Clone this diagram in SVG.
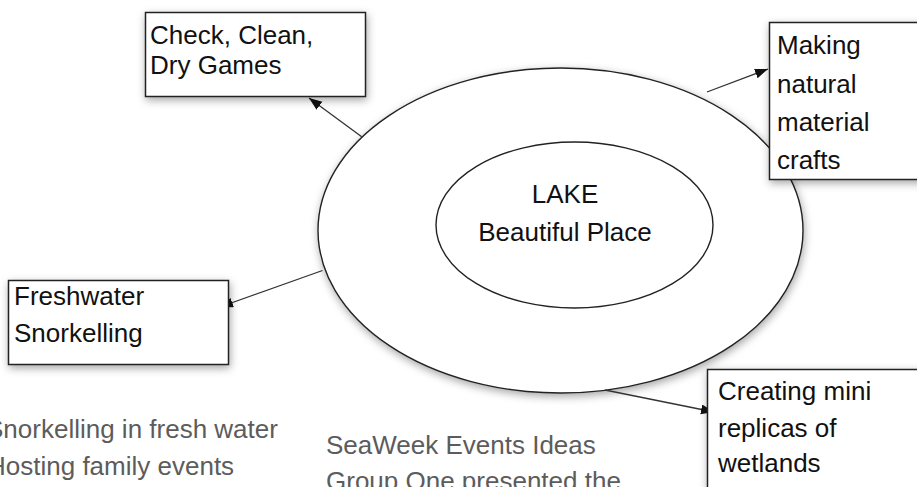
<svg xmlns="http://www.w3.org/2000/svg" width="917" height="487" viewBox="0 0 917 487">
  <defs>
    <filter id="shadow" x="-20%" y="-20%" width="140%" height="150%">
      <feDropShadow dx="1" dy="3" stdDeviation="4" flood-color="#000" flood-opacity="0.35"/>
    </filter>
    <marker id="arrow" markerUnits="userSpaceOnUse" markerWidth="15" markerHeight="11" refX="13" refY="5" orient="auto">
      <path d="M0,0 L13,5 L0,10 z" fill="#111"/>
    </marker>
  </defs>
  <style>
    .shape { fill: #fff; stroke: #222; stroke-width: 1.4; filter: url(#shadow); }
    .box { fill: #fff; stroke: #222; stroke-width: 1.5; filter: url(#shadow); }
    .lbl { font-family: "Liberation Sans", Arial, Helvetica, sans-serif; font-size: 26px; fill: #111; }
    .bg { font-family: "Liberation Sans", Arial, Helvetica, sans-serif; font-size: 26px; fill: #5c5c5c; }
    .conn { stroke: #333; stroke-width: 1.3; fill: none; marker-end: url(#arrow); }
  </style>
  <rect width="917" height="487" fill="#fff"/>

  <g id="background-text">
    <text class="bg" x="-14" y="438">Snorkelling in fresh water</text>
    <text class="bg" x="-13" y="475">Hosting family events</text>
    <text class="bg" x="326" y="454">SeaWeek Events Ideas</text>
    <text class="bg" x="326" y="490">Group One presented the</text>
  </g>

  <g id="outer-ellipse">
    <ellipse class="shape" cx="560.5" cy="230.5" rx="242.5" ry="162.5"/>
  </g>

  <g id="lake">
    <ellipse class="shape" cx="574.5" cy="225" rx="138.5" ry="83" style="filter:none"/>
    <text class="lbl" x="565" y="203" text-anchor="middle">LAKE</text>
    <text class="lbl" x="565" y="241" text-anchor="middle">Beautiful Place</text>
  </g>

  <g id="connectors">
    <line class="conn" x1="361.7" y1="136.7" x2="309" y2="98"/>
    <line class="conn" x1="707" y1="92" x2="768" y2="69"/>
    <line class="conn" x1="322.5" y1="270.5" x2="220" y2="307"/>
    <line class="conn" x1="605" y1="390" x2="714" y2="412"/>
  </g>

  <g id="check-clean">
    <rect class="box" x="145.5" y="12.5" width="220" height="84"/>
    <text class="lbl" x="150" y="44">Check, Clean,</text>
    <text class="lbl" x="150" y="74">Dry Games</text>
  </g>

  <g id="making-crafts">
    <rect class="box" x="769.5" y="22.5" width="170" height="157"/>
    <text class="lbl" x="777" y="54">Making</text>
    <text class="lbl" x="777" y="92.5">natural</text>
    <text class="lbl" x="777" y="130.5">material</text>
    <text class="lbl" x="777" y="168.5">crafts</text>
  </g>

  <g id="freshwater">
    <rect class="box" x="8.5" y="280.5" width="220" height="84"/>
    <text class="lbl" x="14" y="305">Freshwater</text>
    <text class="lbl" x="14" y="342">Snorkelling</text>
  </g>

  <g id="creating-replicas">
    <rect class="box" x="707.5" y="369.5" width="230" height="140"/>
    <text class="lbl" x="718" y="400">Creating mini</text>
    <text class="lbl" x="718" y="437">replicas of</text>
    <text class="lbl" x="718" y="472">wetlands</text>
  </g>
</svg>
